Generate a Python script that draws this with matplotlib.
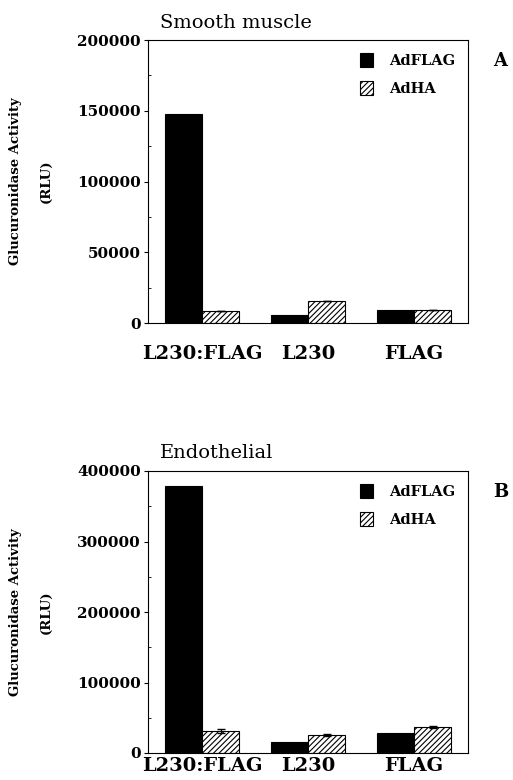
import matplotlib
matplotlib.use("Agg")
import matplotlib.pyplot as plt
import numpy as np
from matplotlib.ticker import MultipleLocator

categories = ["L230:FLAG", "L230", "FLAG"]
series_names = ["AdFLAG", "AdHA"]

smooth_adflag = [148000, 6000, 9500]
smooth_adha = [8500, 15500, 9000]
smooth_adha_err = [0, 0, 0]

endo_adflag = [379000, 15000, 28000]
endo_adha = [31000, 25500, 36500]
endo_adha_err = [3000, 1000, 1500]

plt.rcParams['hatch.linewidth'] = 0.8
serif = ['DejaVu Serif']

fig = plt.figure(figsize=(5.13, 7.8), dpi=100)
W, H = 513, 780

def make_ax(top, bottom):
    return fig.add_axes([148 / W, 1 - bottom / H, (468 - 148) / W, (bottom - top) / H])

panels = [
    dict(ax=make_ax(40, 323), f=smooth_adflag, h=smooth_adha, e=smooth_adha_err,
         ymax=200000, step=50000, title="Smooth muscle", letter="A", pad=16),
    dict(ax=make_ax(471, 753), f=endo_adflag, h=endo_adha, e=endo_adha_err,
         ymax=400000, step=100000, title="Endothelial", letter="B", pad=3),
]

x = np.arange(len(categories))
w = 0.35
for p in panels:
    ax = p['ax']
    ax.bar(x - w / 2, p['f'], w, color='black', edgecolor='black', linewidth=0.8,
           label=series_names[0])
    ax.bar(x + w / 2, p['h'], w, color='white', edgecolor='black', hatch='//////',
           linewidth=0.8, label=series_names[1],
           yerr=p['e'], error_kw=dict(ecolor='black', capsize=3, elinewidth=0.8))
    ax.set_xlim(-0.51, 2.51)
    ax.set_ylim(0, p['ymax'])
    ax.yaxis.set_major_locator(MultipleLocator(p['step']))
    ax.yaxis.set_minor_locator(MultipleLocator(p['step'] / 2))
    ax.set_xticks(x)
    ax.set_xticklabels(categories, fontfamily=serif, fontweight='bold', fontsize=14)
    ax.tick_params(axis='x', length=0, pad=p['pad'])
    ax.tick_params(axis='y', which='major', direction='out', length=3, width=0.8, pad=2)
    ax.tick_params(axis='y', which='minor', direction='in', length=2, width=0.6)
    for lab in ax.get_yticklabels():
        lab.set_fontfamily(serif)
        lab.set_fontweight('bold')
        lab.set_fontsize(11)
    for s in ax.spines.values():
        s.set_linewidth(0.8)
    ax.set_ylabel("Glucuronidase Activity\n(RLU)", fontfamily=serif, fontweight='bold',
                  fontsize=9.5, labelpad=18, linespacing=2.7)
    ax.set_title(p['title'], fontfamily=serif, fontsize=14, loc='left', x=0.037, pad=9)
    leg = ax.legend(loc='upper right', frameon=False, prop=dict(family=serif, weight='bold', size=10.5),
                    handlelength=0.9, handleheight=1.1, handletextpad=1.1, labelspacing=0.9,
                    borderaxespad=0.5)
    ax.text(1.08, 0.925, p['letter'], transform=ax.transAxes, fontfamily=serif,
            fontweight='bold', fontsize=13, va='center', ha='left')

fig.savefig("out.png", dpi=100)
